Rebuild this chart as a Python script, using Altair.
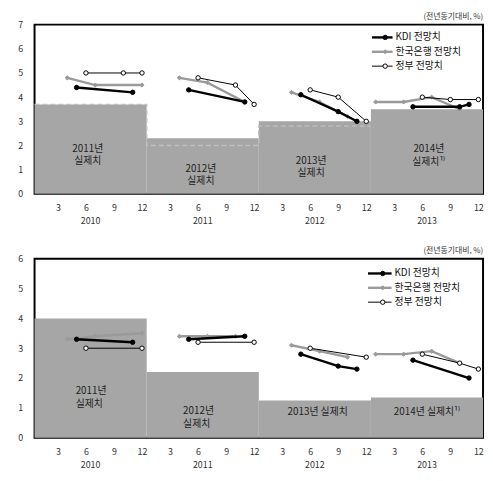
import altair as alt
import pandas as pd

FONT = "Noto Sans CJK KR"

YEARS = ["2010", "2011", "2012", "2013"]
MONTH_TICKS = list(range(3, 49, 3))
SERIES = ["KDI 전망치", "한국은행 전망치", "정부 전망치"]
UNIT = "(전년동기대비, %)"

# ---- top panel (month index: 1 = Jan 2010 ... 48 = Dec 2013) ----
TOP_ACTUAL = [3.7, 2.3, 3.0, 3.5]
TOP_PRELIM = [3.7, 2.0, 2.8]
TOP_KDI_M = [5, 11, 17, 23, 29, 33, 35, 41, 46, 47]
TOP_KDI_V = [4.4, 4.2, 4.3, 3.8, 4.1, 3.4, 3.0, 3.6, 3.6, 3.7]
TOP_BOK_M = [4, 7, 12, 16, 19, 23, 28, 31, 34, 37, 40, 43, 46]
TOP_BOK_V = [4.8, 4.5, 4.5, 4.8, 4.6, 3.8, 4.2, 3.8, 3.2, 3.8, 3.8, 4.0, 3.5]
TOP_GOV_M = [6, 10, 12, 18, 22, 24, 30, 33, 36, 42, 45, 48]
TOP_GOV_V = [5.0, 5.0, 5.0, 4.8, 4.5, 3.7, 4.3, 4.0, 3.0, 4.0, 3.9, 3.9]
TOP_LABELS = ["2011년\n실제치", "2012년\n실제치", "2013년\n실제치", "2014년\n실제치¹⁾"]

# ---- bottom panel ----
BOT_ACTUAL = [4.0, 2.2, 1.25, 1.35]
BOT_KDI_M = [5, 11, 17, 23, 29, 33, 35, 41, 47]
BOT_KDI_V = [3.3, 3.2, 3.3, 3.4, 2.8, 2.4, 2.3, 2.6, 2.0]
BOT_BOK_M = [4, 7, 12, 16, 19, 22, 28, 31, 34, 37, 40, 43, 46]
BOT_BOK_V = [3.3, 3.4, 3.5, 3.4, 3.4, 3.4, 3.1, 2.9, 2.7, 2.8, 2.8, 2.9, 2.5]
BOT_GOV_M = [6, 12, 18, 24, 30, 36, 42, 46, 48]
BOT_GOV_V = [3.0, 3.0, 3.2, 3.2, 3.0, 2.7, 2.8, 2.5, 2.3]
BOT_LABELS = ["2011년\n실제치", "2012년\n실제치", "2013년 실제치", "2014년 실제치¹⁾"]

# annotation placement (layout, in data units)
TOP_LABEL_POS = [(6.2, 1.87, "center"), (18.3, 1.04, "center"), (30.1, 1.37, "center"), (42.7, 1.84, "center")]
BOT_LABEL_POS = [(4.9, 1.55, "left"), (16.4, 0.88, "left"), (30.8, 0.87, "center"), (42.5, 0.87, "center")]

AREA_COLOR = "#a6a6a6"
STYLE = {
    "KDI 전망치": dict(color="#000000", width=2.4, shape="circle", fill="#000000", size=20),
    "한국은행 전망치": dict(color="#9a9a9a", width=2.4, shape="diamond", fill="#9a9a9a", size=18),
    "정부 전망치": dict(color="#000000", width=1.0, shape="circle", fill="#ffffff", size=20),
}

W = 456


def xenc(field="m"):
    return alt.X(f"{field}:Q", scale=alt.Scale(domain=[0.5, 48.5], nice=False, zero=False),
                 axis=alt.Axis(values=MONTH_TICKS, labelExpr="((datum.value - 1) % 12) + 1",
                               title=None, ticks=False, domain=False, grid=False,
                               labelFontSize=9, labelColor="#333333", labelPadding=10,
                               labelFlush=False, labelOverlap=False, labelFont=FONT))


def yenc(ymax, field="v"):
    return alt.Y(f"{field}:Q", scale=alt.Scale(domain=[0, ymax], nice=False, zero=True),
                 axis=alt.Axis(values=list(range(ymax + 1)), title=None, ticks=False, domain=False,
                               grid=False, labelFontSize=9, labelColor="#333333", labelPadding=12,
                               labelFont=FONT))


def series_df(months, values):
    df = pd.DataFrame({"m": months, "v": values})
    df["g"] = (df["m"] - 1) // 12
    return df


def panel(actual, prelim, kdi, bok, gov, labels, label_pos, ymax, height, leg):
    layers = []
    area = pd.DataFrame({
        "m": [0.5 + 12 * i for i in range(len(actual))],
        "m2": [12.5 + 12 * i for i in range(len(actual))],
        "v0": [0] * len(actual),
        "v": actual,
    })
    layers.append(alt.Chart(area).mark_rect(color=AREA_COLOR).encode(
        x=xenc(), x2="m2:Q", y=yenc(ymax), y2="v0:Q"))
    if prelim:
        pre = pd.DataFrame({"m": [0.5 + 12 * i for i in range(len(prelim) + 1)],
                            "v": prelim + [prelim[-1]]})
        layers.append(alt.Chart(pre).mark_line(color="#c0c0c0", strokeWidth=1.5, strokeDash=[5, 3],
                                               interpolate="step-after").encode(x=xenc(), y=yenc(ymax)))
    order = [("한국은행 전망치", bok), ("KDI 전망치", kdi), ("정부 전망치", gov)]
    for name, (mm, vv) in order:
        st = STYLE[name]
        df = series_df(mm, vv)
        layers.append(alt.Chart(df).mark_line(color=st["color"], strokeWidth=st["width"]).encode(
            x=xenc(), y=yenc(ymax), detail="g:N"))
        layers.append(alt.Chart(df).mark_point(shape=st["shape"], filled=True, fill=st["fill"],
                                               stroke=st["color"], strokeWidth=1, size=st["size"],
                                               opacity=1).encode(x=xenc(), y=yenc(ymax)))
    ann = pd.DataFrame({"m": [p[0] for p in label_pos], "v": [p[1] for p in label_pos],
                        "t": labels, "a": [p[2] for p in label_pos]})
    for a in ["left", "center"]:
        sub = ann[ann["a"] == a]
        if len(sub):
            layers.append(alt.Chart(sub).mark_text(align=a, baseline="middle", lineBreak="\n",
                                                   lineHeight=13, fontSize=10, color="#222222",
                                                   font=FONT).encode(
                x=xenc(), y=yenc(ymax), text="t:N"))
    yr = pd.DataFrame({"m": [6.5 + 12 * i for i in range(len(YEARS))], "t": YEARS})
    layers.append(alt.Chart(yr).mark_text(fontSize=9, color="#333333", baseline="middle", font=FONT).encode(
        x=xenc(), y=alt.value(height + 28), text="t:N"))
    # legend
    x1, x2, tx, y0, dy = leg
    for i, name in enumerate(SERIES):
        st = STYLE[name]
        d = pd.DataFrame({"s": [name]})
        yy = y0 + i * dy
        layers.append(alt.Chart(d).mark_rule(color=st["color"], strokeWidth=st["width"]).encode(
            x=alt.value(x1), x2=alt.value(x2), y=alt.value(yy)))
        layers.append(alt.Chart(d).mark_point(shape=st["shape"], filled=True, fill=st["fill"],
                                              stroke=st["color"], strokeWidth=1, size=st["size"],
                                              opacity=1).encode(
            x=alt.value((x1 + x2) / 2 + 3), y=alt.value(yy)))
        layers.append(alt.Chart(d).mark_text(align="left", baseline="middle", fontSize=10,
                                             color="#111111", font=FONT).encode(
            x=alt.value(tx), y=alt.value(yy), text="s:N"))
    return alt.layer(*layers).properties(
        width=W, height=height,
        title=alt.TitleParams(UNIT, anchor="end", fontSize=8, fontWeight="normal", color="#333333",
                              offset=0, font=FONT))


top = panel(TOP_ACTUAL, TOP_PRELIM, (TOP_KDI_M, TOP_KDI_V), (TOP_BOK_M, TOP_BOK_V),
            (TOP_GOV_M, TOP_GOV_V), TOP_LABELS, TOP_LABEL_POS, 7, 172, (343, 364, 367, 13, 14.6))
bottom = panel(BOT_ACTUAL, [], (BOT_KDI_M, BOT_KDI_V), (BOT_BOK_M, BOT_BOK_V),
               (BOT_GOV_M, BOT_GOV_V), BOT_LABELS, BOT_LABEL_POS, 6, 182, (339, 363, 366, 15, 14.6))

chart = alt.vconcat(top, bottom, spacing=19).properties(
    padding={"left": 9, "top": 0, "right": 0, "bottom": 0}
).configure(font=FONT).configure_view(stroke="black", strokeWidth=2)

chart.save("out.html", embed_options={"renderer": "svg", "actions": False})
